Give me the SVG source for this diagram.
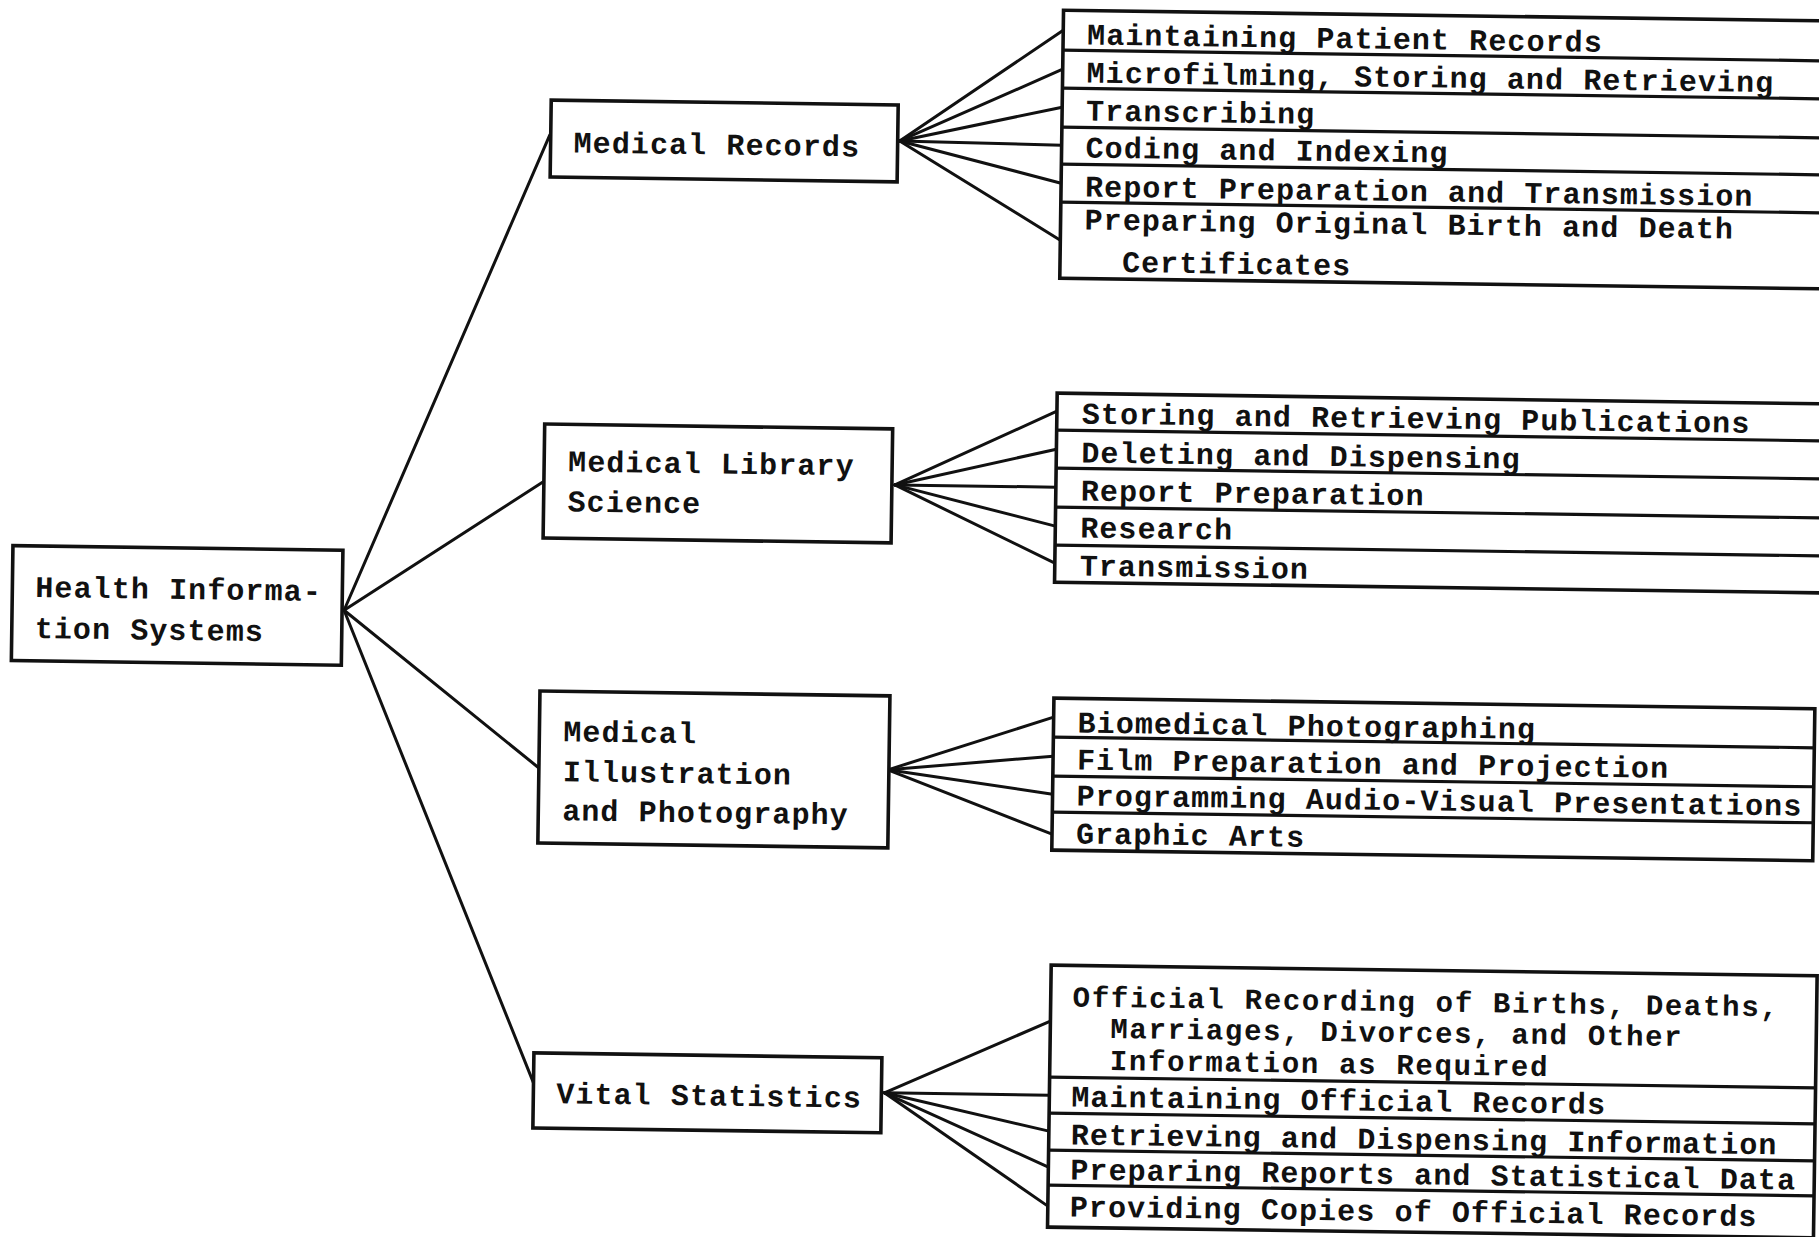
<svg xmlns="http://www.w3.org/2000/svg" width="1819" height="1237" viewBox="0 0 1819 1237">
  <style>
    .box { fill: #fff; stroke: #111; stroke-width: 3.6; }
    .row { fill: none; stroke: #111; stroke-width: 3.2; }
    .conn line { stroke: #111; stroke-width: 3; stroke-linecap: round; }
    text { font-family: "Liberation Mono", "DejaVu Sans Mono", monospace; font-weight: bold; font-size: 30px; letter-spacing: 1.1px; fill: #111; }
    .tight { font-size: 29px; letter-spacing: 1.7px; }
  </style>
  <rect width="1819" height="1237" fill="#fff"/>
  <!-- the whole chart sits slightly tilted on the page -->
  <g transform="rotate(0.8 900 620)">
    <g id="connectors" class="conn">
      <!-- root to the four areas -->
      <line x1="344" y1="618" x2="543" y2="140"/>
      <line x1="344" y1="618" x2="541" y2="487"/>
      <line x1="344" y1="618" x2="541" y2="773"/>
      <line x1="344" y1="618" x2="540" y2="1088"/>
      <!-- Medical Records fan -->
      <line x1="893" y1="141" x2="1055" y2="28"/>
      <line x1="893" y1="141" x2="1055" y2="67"/>
      <line x1="893" y1="141" x2="1055" y2="105"/>
      <line x1="893" y1="141" x2="1055" y2="143"/>
      <line x1="893" y1="141" x2="1055" y2="181"/>
      <line x1="893" y1="141" x2="1055" y2="238"/>
      <!-- Medical Library Science fan -->
      <line x1="893" y1="485" x2="1054" y2="409"/>
      <line x1="893" y1="485" x2="1054" y2="447"/>
      <line x1="893" y1="485" x2="1054" y2="485"/>
      <line x1="893" y1="485" x2="1054" y2="524"/>
      <line x1="893" y1="485" x2="1054" y2="561"/>
      <!-- Medical Illustration and Photography fan -->
      <line x1="890" y1="770" x2="1055" y2="715"/>
      <line x1="890" y1="770" x2="1055" y2="754"/>
      <line x1="890" y1="770" x2="1055" y2="792"/>
      <line x1="890" y1="770" x2="1055" y2="832"/>
      <!-- Vital Statistics fan -->
      <line x1="891" y1="1093" x2="1056" y2="1019"/>
      <line x1="891" y1="1093" x2="1056" y2="1093"/>
      <line x1="891" y1="1093" x2="1056" y2="1129"/>
      <line x1="891" y1="1093" x2="1056" y2="1165"/>
      <line x1="891" y1="1093" x2="1056" y2="1204"/>
    </g>

    <g id="health-information-systems">
      <rect class="box" x="12" y="558" width="330" height="115"/>
      <text x="35" y="609">Health Informa-</text>
      <text x="35" y="650">tion Systems</text>
    </g>

    <g id="medical-records">
      <rect class="box" x="544" y="105" width="347" height="77"/>
      <text x="567" y="157">Medical Records</text>
    </g>

    <g id="medical-library-science">
      <rect class="box" x="542" y="429" width="348" height="114"/>
      <text x="566" y="476">Medical Library</text>
      <text x="566" y="516">Science</text>
    </g>

    <g id="medical-illustration">
      <rect class="box" x="541" y="696" width="350" height="152"/>
      <text x="565" y="746">Medical</text>
      <text x="565" y="786">Illustration</text>
      <text x="565" y="825">and Photography</text>
    </g>

    <g id="vital-statistics">
      <rect class="box" x="540" y="1058" width="348" height="75"/>
      <text x="563" y="1108">Vital Statistics</text>
    </g>

    <g id="medical-records-tasks">
      <rect class="box" x="1055" y="8" width="775" height="268"/>
      <path class="row" d="M1055 48H1830M1055 86H1830M1055 125H1830M1055 162H1830M1055 200H1830"/>
      <text x="1079" y="42">Maintaining Patient Records</text>
      <text x="1079" y="80">Microfilming, Storing and Retrieving</text>
      <text x="1079" y="118">Transcribing</text>
      <text x="1079" y="155">Coding and Indexing</text>
      <text x="1079" y="194">Report Preparation and Transmission</text>
      <text x="1079" y="227">Preparing Original Birth and Death</text>
      <text x="1117" y="269">Certificates</text>
    </g>

    <g id="medical-library-tasks">
      <rect class="box" x="1054" y="391" width="776" height="189"/>
      <path class="row" d="M1054 428H1830M1054 466H1830M1054 505H1830M1054 543H1830"/>
      <text x="1079" y="421">Storing and Retrieving Publications</text>
      <text x="1079" y="460">Deleting and Dispensing</text>
      <text x="1079" y="498">Report Preparation</text>
      <text x="1079" y="535">Research</text>
      <text x="1079" y="573">Transmission</text>
    </g>

    <g id="medical-illustration-tasks">
      <rect class="box" x="1055" y="696" width="761" height="152"/>
      <path class="row" d="M1055 735H1816M1055 774H1816M1055 810H1816"/>
      <text x="1079" y="730">Biomedical Photographing</text>
      <text x="1079" y="767">Film Preparation and Projection</text>
      <text x="1079" y="803">Programming Audio-Visual Presentations</text>
      <text x="1079" y="841">Graphic Arts</text>
    </g>

    <g id="vital-statistics-tasks">
      <rect class="box" x="1056" y="963" width="766" height="262"/>
      <path class="row" d="M1056 1075H1822M1056 1111H1822M1056 1148H1822M1056 1183H1822"/>
      <text class="tight" x="1078" y="1004">Official Recording of Births, Deaths,</text>
      <text class="tight" x="1116" y="1035">Marriages, Divorces, and Other</text>
      <text class="tight" x="1116" y="1067">Information as Required</text>
      <text x="1078" y="1104">Maintaining Official Records</text>
      <text x="1078" y="1142">Retrieving and Dispensing Information</text>
      <text x="1078" y="1177">Preparing Reports and Statistical Data</text>
      <text x="1078" y="1214">Providing Copies of Official Records</text>
    </g>
  </g>
</svg>
